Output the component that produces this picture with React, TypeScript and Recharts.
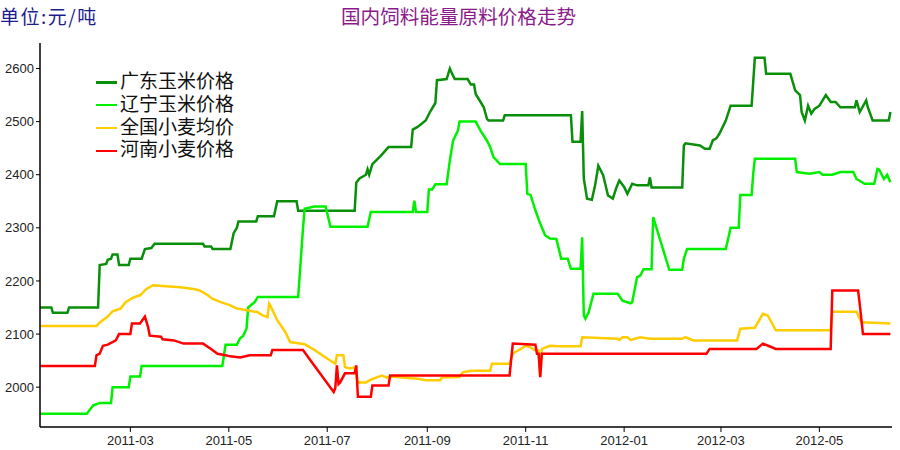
import { Line, LineChart, XAxis, YAxis } from "recharts";

// axis
const xStart = "2011-01-04";
const xEnd = "2012-06-15";
const xTickMonths = ["2011-03", "2011-05", "2011-07", "2011-09", "2011-11", "2012-01", "2012-03", "2012-05"];
const yTicks = [2000, 2100, 2200, 2300, 2400, 2500, 2600];

// 广东玉米价格 (元/吨)
const guangdongCorn: [string, number][] = [
  ["2011-01-04", 2150], ["2011-01-11", 2150], ["2011-01-12", 2140], ["2011-01-21", 2140],
  ["2011-01-22", 2150], ["2011-02-09", 2150], ["2011-02-10", 2230], ["2011-02-14", 2232],
  ["2011-02-15", 2240], ["2011-02-17", 2242], ["2011-02-18", 2250], ["2011-02-21", 2250],
  ["2011-02-22", 2230], ["2011-02-28", 2230], ["2011-03-01", 2242], ["2011-03-08", 2242],
  ["2011-03-10", 2260], ["2011-03-14", 2262], ["2011-03-16", 2270], ["2011-04-15", 2270],
  ["2011-04-16", 2265], ["2011-04-20", 2265], ["2011-04-21", 2260], ["2011-05-02", 2260],
  ["2011-05-04", 2290], ["2011-05-06", 2300], ["2011-05-07", 2312], ["2011-05-18", 2312],
  ["2011-05-19", 2322], ["2011-05-29", 2322], ["2011-05-31", 2350], ["2011-06-12", 2350],
  ["2011-06-13", 2332], ["2011-07-18", 2332], ["2011-07-19", 2385], ["2011-07-21", 2393],
  ["2011-07-25", 2400], ["2011-07-26", 2410], ["2011-07-27", 2400], ["2011-07-29", 2420],
  ["2011-08-03", 2435], ["2011-08-08", 2452], ["2011-08-22", 2452], ["2011-08-23", 2485],
  ["2011-08-26", 2490], ["2011-08-31", 2502], ["2011-09-03", 2520], ["2011-09-06", 2535],
  ["2011-09-07", 2578], ["2011-09-13", 2580], ["2011-09-15", 2600], ["2011-09-16", 2593],
  ["2011-09-18", 2580], ["2011-09-26", 2580], ["2011-09-28", 2570], ["2011-09-30", 2570],
  ["2011-10-01", 2552], ["2011-10-06", 2527], ["2011-10-08", 2505], ["2011-10-09", 2502],
  ["2011-10-18", 2502], ["2011-10-19", 2512], ["2011-11-29", 2512], ["2011-11-30", 2462],
  ["2011-12-05", 2462], ["2011-12-06", 2520], ["2011-12-07", 2393], ["2011-12-09", 2355],
  ["2011-12-12", 2353], ["2011-12-14", 2380], ["2011-12-16", 2417], ["2011-12-19", 2399],
  ["2011-12-22", 2361], ["2011-12-25", 2355], ["2011-12-27", 2374], ["2011-12-29", 2389],
  ["2012-01-01", 2377], ["2012-01-03", 2364], ["2012-01-06", 2383], ["2012-01-09", 2380],
  ["2012-01-16", 2380], ["2012-01-17", 2395], ["2012-01-18", 2376], ["2012-02-06", 2376],
  ["2012-02-07", 2455], ["2012-02-08", 2459], ["2012-02-17", 2455], ["2012-02-20", 2449],
  ["2012-02-23", 2449], ["2012-02-25", 2465], ["2012-02-27", 2468], ["2012-02-29", 2477],
  ["2012-03-04", 2502], ["2012-03-07", 2530], ["2012-03-20", 2530], ["2012-03-22", 2620],
  ["2012-03-28", 2620], ["2012-03-29", 2590], ["2012-04-13", 2590], ["2012-04-16", 2559],
  ["2012-04-19", 2550], ["2012-04-20", 2518], ["2012-04-22", 2502], ["2012-04-24", 2530],
  ["2012-04-26", 2515], ["2012-04-28", 2524], ["2012-05-01", 2530], ["2012-05-05", 2550],
  ["2012-05-08", 2537], ["2012-05-11", 2537], ["2012-05-14", 2527], ["2012-05-23", 2527],
  ["2012-05-24", 2540], ["2012-05-26", 2518], ["2012-05-30", 2540], ["2012-05-31", 2527],
  ["2012-06-03", 2502], ["2012-06-13", 2502], ["2012-06-14", 2518],
];

// 辽宁玉米价格
const liaoningCorn: [string, number][] = [
  ["2011-01-04", 1950], ["2011-02-02", 1950], ["2011-02-06", 1966], ["2011-02-10", 1970],
  ["2011-02-17", 1970], ["2011-02-18", 2000], ["2011-02-28", 2000], ["2011-03-01", 2020],
  ["2011-03-07", 2020], ["2011-03-08", 2040], ["2011-04-27", 2040], ["2011-04-29", 2080],
  ["2011-05-06", 2080], ["2011-05-08", 2092], ["2011-05-10", 2097], ["2011-05-12", 2110],
  ["2011-05-13", 2150], ["2011-05-17", 2160], ["2011-05-19", 2170], ["2011-06-13", 2170],
  ["2011-06-16", 2300], ["2011-06-17", 2336], ["2011-06-23", 2340], ["2011-06-30", 2340],
  ["2011-07-03", 2302], ["2011-07-26", 2302], ["2011-07-28", 2330], ["2011-08-23", 2330],
  ["2011-08-24", 2351], ["2011-08-25", 2330], ["2011-09-01", 2330], ["2011-09-02", 2372],
  ["2011-09-04", 2372], ["2011-09-06", 2382], ["2011-09-13", 2382], ["2011-09-15", 2427],
  ["2011-09-17", 2464], ["2011-09-20", 2483], ["2011-09-21", 2500], ["2011-10-01", 2500],
  ["2011-10-04", 2483], ["2011-10-08", 2464], ["2011-10-10", 2452], ["2011-10-12", 2433],
  ["2011-10-14", 2427], ["2011-10-16", 2420], ["2011-11-01", 2420], ["2011-11-02", 2364],
  ["2011-11-04", 2362], ["2011-11-07", 2333], ["2011-11-10", 2308], ["2011-11-13", 2286],
  ["2011-11-16", 2280], ["2011-11-20", 2279], ["2011-11-23", 2242], ["2011-11-27", 2242],
  ["2011-11-29", 2223], ["2011-12-05", 2223], ["2011-12-06", 2282], ["2011-12-07", 2135],
  ["2011-12-08", 2129], ["2011-12-10", 2141], ["2011-12-13", 2176], ["2011-12-28", 2176],
  ["2011-12-31", 2163], ["2012-01-05", 2158], ["2012-01-06", 2160], ["2012-01-09", 2207],
  ["2012-01-11", 2210], ["2012-01-13", 2222], ["2012-01-18", 2222], ["2012-01-19", 2320],
  ["2012-01-29", 2221], ["2012-02-06", 2221], ["2012-02-07", 2242], ["2012-02-09", 2260],
  ["2012-03-04", 2260], ["2012-03-07", 2300], ["2012-03-12", 2300], ["2012-03-13", 2362],
  ["2012-03-20", 2362], ["2012-03-21", 2402], ["2012-03-22", 2430], ["2012-04-16", 2430],
  ["2012-04-17", 2405], ["2012-04-25", 2402], ["2012-05-01", 2405], ["2012-05-03", 2400],
  ["2012-05-09", 2400], ["2012-05-14", 2405], ["2012-05-22", 2405], ["2012-05-24", 2392],
  ["2012-05-29", 2383], ["2012-06-04", 2383], ["2012-06-06", 2411], ["2012-06-07", 2410],
  ["2012-06-10", 2392], ["2012-06-12", 2400], ["2012-06-14", 2386],
];

// 全国小麦均价
const nationalWheat: [string, number][] = [
  ["2011-01-04", 2115], ["2011-02-08", 2115], ["2011-02-10", 2122], ["2011-02-15", 2133],
  ["2011-02-18", 2143], ["2011-02-23", 2148], ["2011-02-26", 2160], ["2011-03-03", 2169],
  ["2011-03-07", 2173], ["2011-03-11", 2185], ["2011-03-15", 2192], ["2011-03-23", 2190],
  ["2011-04-01", 2188], ["2011-04-09", 2185], ["2011-04-13", 2182], ["2011-04-18", 2173],
  ["2011-04-21", 2166], ["2011-04-26", 2160], ["2011-05-02", 2154], ["2011-05-06", 2148],
  ["2011-05-14", 2144], ["2011-05-19", 2141], ["2011-05-22", 2135], ["2011-05-25", 2132],
  ["2011-05-26", 2157], ["2011-05-27", 2152], ["2011-05-31", 2126], ["2011-06-05", 2104],
  ["2011-06-08", 2085], ["2011-06-17", 2081], ["2011-06-22", 2072], ["2011-06-30", 2056],
  ["2011-07-06", 2044], ["2011-07-07", 2060], ["2011-07-11", 2060], ["2011-07-12", 2038],
  ["2011-07-15", 2035], ["2011-07-18", 2037], ["2011-07-20", 2009], ["2011-07-25", 2009],
  ["2011-07-28", 2014], ["2011-08-01", 2019], ["2011-08-04", 2022], ["2011-08-07", 2018],
  ["2011-08-09", 2020], ["2011-08-26", 2016], ["2011-08-31", 2013], ["2011-09-09", 2013],
  ["2011-09-10", 2018], ["2011-09-21", 2019], ["2011-09-23", 2028], ["2011-09-28", 2031],
  ["2011-10-10", 2031], ["2011-10-11", 2044], ["2011-10-22", 2044], ["2011-10-24", 2063],
  ["2011-10-27", 2069], ["2011-10-29", 2072], ["2011-11-01", 2078], ["2011-11-04", 2075],
  ["2011-11-07", 2069], ["2011-11-09", 2069], ["2011-11-10", 2020], ["2011-11-11", 2072],
  ["2011-11-16", 2078], ["2011-11-21", 2077], ["2011-12-05", 2077], ["2011-12-06", 2094],
  ["2011-12-28", 2091], ["2011-12-29", 2089], ["2011-12-31", 2094], ["2012-01-03", 2094],
  ["2012-01-05", 2089], ["2012-01-11", 2094], ["2012-01-17", 2091], ["2012-02-06", 2091],
  ["2012-02-08", 2094], ["2012-02-13", 2088], ["2012-03-11", 2088], ["2012-03-13", 2110],
  ["2012-03-22", 2112], ["2012-03-27", 2138], ["2012-03-30", 2135], ["2012-04-04", 2107],
  ["2012-05-08", 2107], ["2012-05-09", 2142], ["2012-05-24", 2142], ["2012-05-27", 2122],
  ["2012-06-14", 2120],
];

// 河南小麦价格
const henanWheat: [string, number][] = [
  ["2011-01-04", 2040], ["2011-02-07", 2040], ["2011-02-08", 2060], ["2011-02-10", 2063],
  ["2011-02-12", 2078], ["2011-02-15", 2080], ["2011-02-20", 2088], ["2011-02-22", 2100],
  ["2011-03-01", 2100], ["2011-03-02", 2120], ["2011-03-07", 2120], ["2011-03-10", 2133],
  ["2011-03-12", 2113], ["2011-03-13", 2097], ["2011-03-20", 2095], ["2011-03-21", 2090],
  ["2011-03-28", 2088], ["2011-04-03", 2082], ["2011-04-15", 2082], ["2011-04-20", 2072],
  ["2011-04-24", 2063], ["2011-04-29", 2060], ["2011-05-02", 2058], ["2011-05-08", 2056],
  ["2011-05-14", 2060], ["2011-05-27", 2060], ["2011-05-28", 2070], ["2011-06-16", 2070],
  ["2011-06-20", 2053], ["2011-07-05", 1991], ["2011-07-06", 1998], ["2011-07-07", 2041],
  ["2011-07-08", 2006], ["2011-07-09", 2009], ["2011-07-12", 2026], ["2011-07-18", 2026],
  ["2011-07-19", 2041], ["2011-07-20", 1982], ["2011-07-28", 1982], ["2011-07-29", 2003],
  ["2011-08-08", 2003], ["2011-08-09", 2022], ["2011-10-22", 2022], ["2011-10-24", 2082],
  ["2011-11-07", 2080], ["2011-11-08", 2063], ["2011-11-09", 2063], ["2011-11-10", 2019],
  ["2011-11-11", 2063], ["2012-02-21", 2063], ["2012-02-23", 2072], ["2012-03-23", 2072],
  ["2012-03-27", 2082], ["2012-03-31", 2077], ["2012-04-04", 2072], ["2012-05-08", 2072],
  ["2012-05-09", 2182], ["2012-05-25", 2182], ["2012-05-26", 2157], ["2012-05-28", 2100],
  ["2012-06-14", 2100],
];

const toDay = (date: string) => Date.parse(date) / 86400000;
const toPoints = (rows: [string, number][]) => rows.map(([date, price]) => ({ day: toDay(date), price }));
const monthLabel = (day: number) => new Date(day * 86400000).toISOString().slice(0, 7);

const series = [
  { name: "广东玉米价格", color: "#0a8f0a", rows: guangdongCorn },
  { name: "辽宁玉米价格", color: "#00f000", rows: liaoningCorn },
  { name: "全国小麦均价", color: "#ffcc00", rows: nationalWheat },
  { name: "河南小麦价格", color: "#ff0000", rows: henanWheat },
];

const cjk = '"Noto Sans CJK SC", sans-serif';
const tickStyle = { fontSize: 13, fill: "#222", fontFamily: '"Liberation Sans", Arial, sans-serif' };

export default function App() {
  return (
    <div style={{ position: "absolute", left: 0, top: 0, width: 900, height: 450, background: "#fff" }}>
      <LineChart width={900} height={450} margin={{ top: 43, right: 8, bottom: 0, left: 0 }}>
        <XAxis
          dataKey="day"
          type="number"
          domain={[toDay(xStart), toDay(xEnd)]}
          allowDataOverflow
          ticks={xTickMonths.map((m) => toDay(m + "-01"))}
          tickFormatter={monthLabel}
          height={23}
          tickSize={5}
          tickMargin={4}
          tick={tickStyle}
          axisLine={{ stroke: "#000", strokeWidth: 1.5 }}
          tickLine={{ stroke: "#000" }}
        />
        <YAxis
          type="number"
          domain={[1925, 2648]}
          allowDataOverflow
          ticks={yTicks}
          width={40}
          tickSize={4}
          tick={tickStyle}
          axisLine={{ stroke: "#000", strokeWidth: 1.5 }}
          tickLine={{ stroke: "#000" }}
        />
        {series.map((s) => (
          <Line
            key={s.name}
            data={toPoints(s.rows)}
            dataKey="price"
            name={s.name}
            type="linear"
            stroke={s.color}
            strokeWidth={2.5}
            dot={false}
            activeDot={false}
            isAnimationActive={false}
          />
        ))}
      </LineChart>

      <div style={{ position: "absolute", left: 0, top: 6, fontFamily: cjk, fontSize: 19, lineHeight: "19px", color: "#1c1c8c", letterSpacing: 1.5, whiteSpace: "nowrap" }}>
        单位:元/吨
      </div>
      <div style={{ position: "absolute", left: 341, top: 6, fontFamily: cjk, fontSize: 19.6, lineHeight: "19.6px", color: "#8b1a8b", whiteSpace: "nowrap" }}>
        国内饲料能量原料价格走势
      </div>

      {/* legend: latin primary font keeps each row's text box inside its 22.8px line */}
      <div style={{ position: "absolute", left: 96, top: 71, fontFamily: '"Liberation Sans", "Noto Sans CJK SC", sans-serif', fontSize: 19, color: "#111" }}>
        {series.map((s) => (
          <div key={s.name} style={{ display: "flex", alignItems: "center", height: 22.8, lineHeight: "22.8px", whiteSpace: "nowrap" }}>
            <span style={{ display: "inline-block", width: 21, height: 2.5, background: s.color, marginRight: 3 }} />
            <span>{s.name}</span>
          </div>
        ))}
      </div>
    </div>
  );
}
